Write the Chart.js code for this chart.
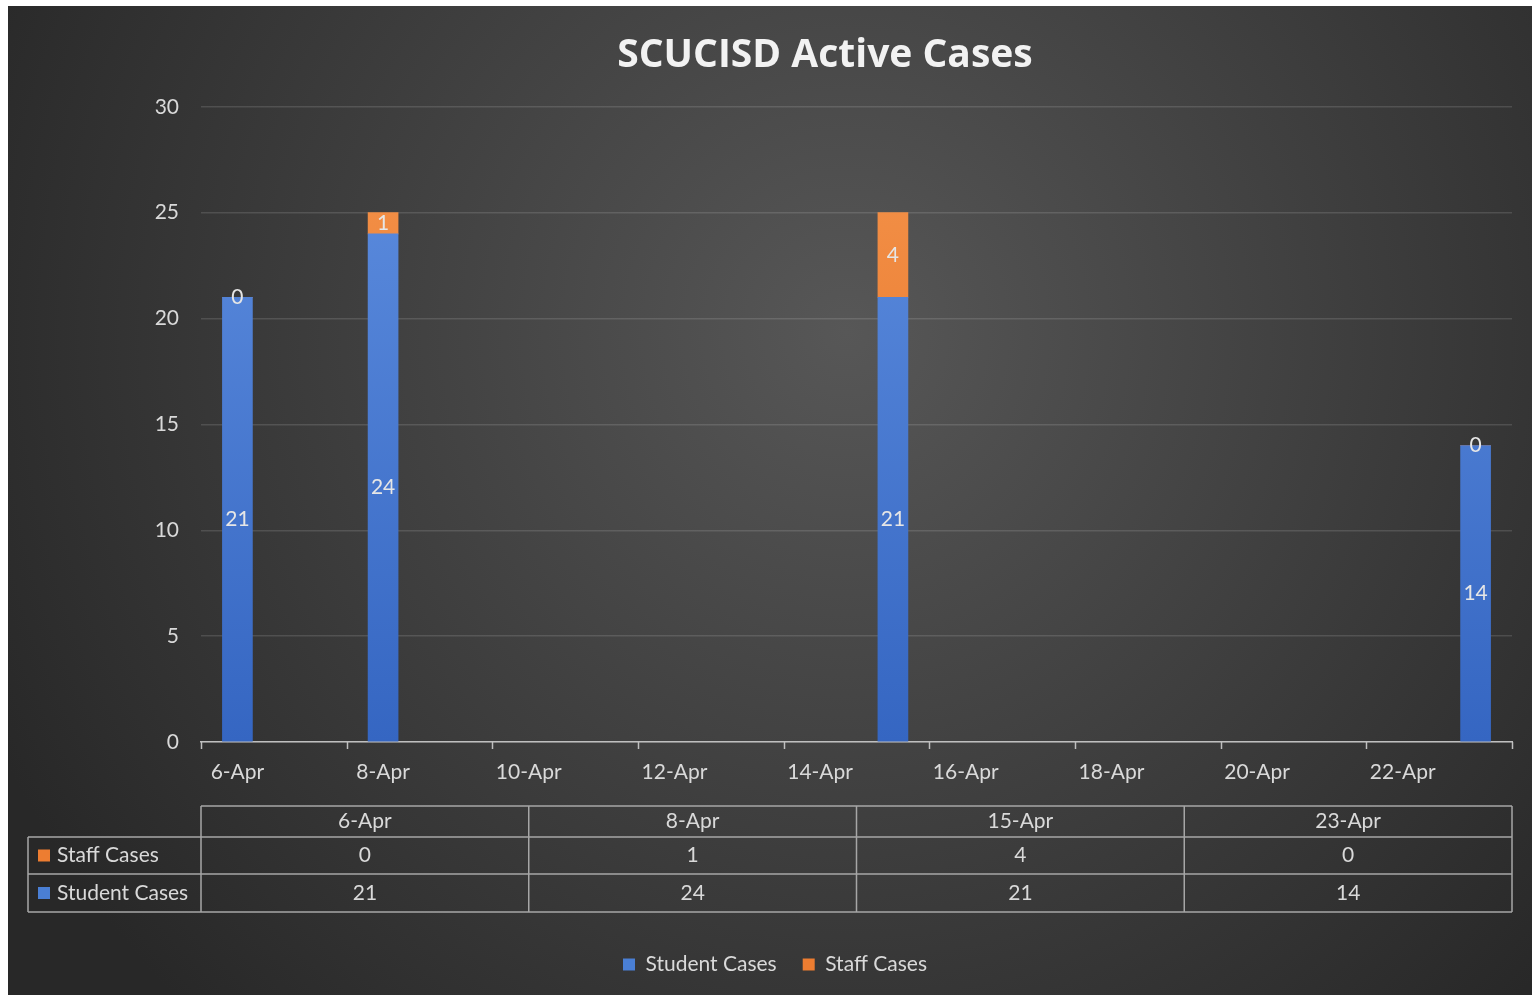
<!DOCTYPE html>
<html>
<head>
<meta charset="utf-8">
<title>SCUCISD Active Cases</title>
<script src="https://cdn.jsdelivr.net/npm/chart.js@4.4.1/dist/chart.umd.min.js"></script>
<style>
  html, body { margin: 0; padding: 0; background: #ffffff; }
  #wrap { position: absolute; left: 8px; top: 6px; width: 1524px; height: 989px; }
</style>
</head>
<body>
<div id="wrap"><canvas id="casesChart"></canvas></div>
<script>
// Chart data
const reportDays = [6, 8, 15, 23];                       // day of April
const reportLabels = ["6-Apr", "8-Apr", "15-Apr", "23-Apr"];
const studentCases = [21, 24, 21, 14];
const staffCases = [0, 1, 4, 0];
const axisDays = [6, 8, 10, 12, 14, 16, 18, 20, 22];     // x tick labels
const yTicks = [0, 5, 10, 15, 20, 25, 30];

const textColor = "#d9d9d9";
const fontFamily = "Lato, 'Open Sans', sans-serif";
const fontSize = 21;

// dark Excel-style background
const backgroundPlugin = {
  id: "darkBackground",
  beforeDraw(chart) {
    const { ctx, width, height } = chart;
    const g = ctx.createRadialGradient(width * 0.55, height * 0.33, 0, width * 0.55, height * 0.33, width * 0.62);
    g.addColorStop(0, "#575757");
    g.addColorStop(1, "#282828");
    ctx.save();
    ctx.fillStyle = g;
    ctx.fillRect(0, 0, width, height);
    ctx.restore();
  },
};

// title sits a bit right of the legend centre, like the original
const titleShiftPlugin = {
  id: "titleShift",
  afterLayout(chart) {
    if (chart.titleBlock) chart.titleBlock.left += 100;
  },
};

// tick marks between the date labels
const tickMarkPlugin = {
  id: "tickMarks",
  afterDraw(chart) {
    const x = chart.scales.x;
    const ctx = chart.ctx;
    const bottom = chart.chartArea.bottom;
    ctx.save();
    ctx.strokeStyle = "#bfbfbf";
    ctx.lineWidth = 1.5;
    for (let d = x.min; d <= x.max + 0.01; d += 2) {
      const px = Math.round(x.getPixelForValue(d)) + 0.5;
      ctx.beginPath();
      ctx.moveTo(px, bottom);
      ctx.lineTo(px, bottom + 7);
      ctx.stroke();
    }
    ctx.restore();
  },
};

// value labels centred in each segment
const valueLabelPlugin = {
  id: "valueLabels",
  afterDatasetsDraw(chart) {
    const ctx = chart.ctx;
    ctx.save();
    ctx.font = fontSize + "px " + fontFamily;
    ctx.fillStyle = "#e6e6e6";
    ctx.textAlign = "center";
    ctx.textBaseline = "middle";
    chart.data.datasets.forEach((ds, i) => {
      chart.getDatasetMeta(i).data.forEach((bar, j) => {
        const cy = (bar.y + bar.base) / 2;
        ctx.fillText(String(ds.data[j].y), bar.x, cy);
      });
    });
    ctx.restore();
  },
};

// data table under the axis
const dataTablePlugin = {
  id: "dataTable",
  afterDraw(chart) {
    const ctx = chart.ctx;
    const area = chart.chartArea;
    const left = 20;
    const colStart = area.left;
    const right = area.right;
    const rowY = [area.bottom + 64, area.bottom + 95, area.bottom + 132, area.bottom + 170];
    const colW = (right - colStart) / reportLabels.length;

    ctx.save();
    ctx.strokeStyle = "#a6a6a6";
    ctx.lineWidth = 1.5;
    ctx.beginPath();
    ctx.moveTo(colStart, rowY[0]); ctx.lineTo(right, rowY[0]);
    for (let r = 1; r < rowY.length; r++) {
      ctx.moveTo(left, rowY[r]); ctx.lineTo(right, rowY[r]);
    }
    ctx.moveTo(left, rowY[1]); ctx.lineTo(left, rowY[3]);
    for (let c = 0; c <= reportLabels.length; c++) {
      const x = colStart + c * colW;
      ctx.moveTo(x, rowY[0]); ctx.lineTo(x, rowY[3]);
    }
    ctx.stroke();

    ctx.font = fontSize + "px " + fontFamily;
    ctx.fillStyle = textColor;
    ctx.textBaseline = "middle";
    ctx.textAlign = "center";
    const rows = [reportLabels, staffCases, studentCases];
    rows.forEach((row, r) => {
      const cy = (rowY[r] + rowY[r + 1]) / 2;
      row.forEach((v, c) => {
        ctx.fillText(String(v), colStart + c * colW + colW / 2, cy);
      });
    });

    // row headers with legend keys
    const heads = [["Staff Cases", "#ed7d31"], ["Student Cases", "#4a7fd4"]];
    ctx.textAlign = "left";
    heads.forEach(([name, color], k) => {
      const cy = (rowY[k + 1] + rowY[k + 2]) / 2;
      ctx.fillStyle = color;
      ctx.fillRect(left + 10, cy - 6, 12, 12);
      ctx.fillStyle = textColor;
      ctx.fillText(name, left + 29, cy);
    });
    ctx.restore();
  },
};

function barGradient(ctx, top, bottom) {
  const area = ctx.chart.chartArea;
  if (!area) return bottom;
  const g = ctx.chart.ctx.createLinearGradient(0, area.bottom, 0, area.top);
  g.addColorStop(0, bottom);
  g.addColorStop(1, top);
  return g;
}

const studentPoints = reportDays.map((d, i) => ({ x: d, y: studentCases[i] }));
const staffPoints = reportDays.map((d, i) => ({ x: d, y: staffCases[i] }));

new Chart(document.getElementById("casesChart"), {
  type: "bar",
  data: {
    datasets: [
      {
        label: "Student Cases",
        data: studentPoints,
        backgroundColor: (c) => barGradient(c, "#5f8fe0", "#3566c2"),
        barThickness: 30,
      },
      {
        label: "Staff Cases",
        data: staffPoints,
        backgroundColor: (c) => barGradient(c, "#f5944c", "#e06a1c"),
        barThickness: 30,
      },
    ],
  },
  options: {
    responsive: true,
    maintainAspectRatio: false,
    animation: false,
    layout: { padding: { left: 30, right: 20, top: 20, bottom: 10 } },
    plugins: {
      title: {
        display: true,
        text: "SCUCISD Active Cases",
        color: "#f2f2f2",
        font: { family: "'Open Sans', sans-serif", size: 39, weight: "bold" },
        padding: { top: 6, bottom: 28 },
      },
      legend: {
        position: "bottom",
        labels: {
          color: textColor,
          font: { family: fontFamily, size: fontSize },
          boxWidth: 12,
          boxHeight: 12,
          padding: 26,
          generateLabels(chart) {
            const colors = ["#4a7fd4", "#ed7d31"];
            return chart.data.datasets.map((ds, i) => ({
              text: ds.label,
              fillStyle: colors[i],
              strokeStyle: colors[i],
              lineWidth: 0,
              fontColor: textColor,
              datasetIndex: i,
            }));
          },
        },
      },
      tooltip: { enabled: false },
    },
    scales: {
      x: {
        type: "linear",
        stacked: true,
        offset: false,
        min: 5.5,
        max: 23.5,
        afterBuildTicks(scale) {
          scale.ticks = axisDays.map((d) => ({ value: d }));
        },
        afterFit(scale) {
          scale.height = 186;
        },
        ticks: {
          color: textColor,
          font: { family: fontFamily, size: fontSize },
          padding: 18,
          maxRotation: 0,
          autoSkip: false,
          callback: (v) => v + "-Apr",
        },
        grid: { display: false, drawTicks: false, offset: false },
        border: { display: true, color: "#bfbfbf", width: 1.5 },
      },
      y: {
        stacked: true,
        min: 0,
        max: 30,
        afterBuildTicks(scale) {
          scale.ticks = yTicks.map((v) => ({ value: v }));
        },
        afterFit(scale) {
          scale.width = 163;
        },
        ticks: {
          color: textColor,
          font: { family: fontFamily, size: fontSize },
          padding: 22,
        },
        grid: { color: "rgba(255,255,255,0.13)", lineWidth: 1.5, drawTicks: false },
        border: { display: false },
      },
    },
  },
  plugins: [backgroundPlugin, titleShiftPlugin, tickMarkPlugin, valueLabelPlugin, dataTablePlugin],
});
</script>
</body>
</html>
